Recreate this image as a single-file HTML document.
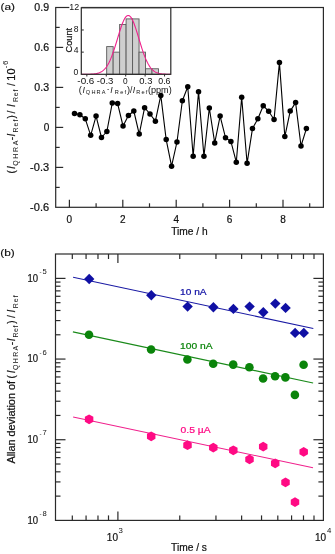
<!DOCTYPE html>
<html><head><meta charset="utf-8"><style>
html,body{margin:0;padding:0;background:#fff;}
svg{display:block;will-change:transform;}
text{font-family:"Liberation Sans", sans-serif;fill:#111;stroke-width:0.2px;}
</style></head><body>
<svg width="335" height="554" viewBox="0 0 335 554">
<polyline points="74.50,113.40 79.89,114.70 85.29,118.80 90.68,135.30 96.07,116.10 101.47,137.50 106.86,131.50 112.25,103.10 117.64,103.60 123.04,126.00 128.43,115.50 133.82,111.00 139.22,134.10 144.61,107.70 150.00,114.00 155.39,121.20 160.79,95.40 166.18,139.60 171.57,166.20 176.97,142.00 182.36,100.80 187.75,86.70 193.15,156.30 198.54,91.70 203.93,156.30 209.32,108.00 214.72,142.90 220.11,116.10 225.50,137.70 230.90,141.40 236.29,162.20 241.68,97.20 247.08,163.30 252.47,128.60 257.86,118.70 263.25,105.70 268.65,111.30 274.04,119.50 279.43,62.60 284.83,136.60 290.22,111.10 295.61,102.60 301.01,146.00 306.40,128.60" fill="none" stroke="#000" stroke-width="1.1" stroke-linejoin="round"/>
<circle cx="74.50" cy="113.40" r="2.75" fill="#000"/>
<circle cx="79.89" cy="114.70" r="2.75" fill="#000"/>
<circle cx="85.29" cy="118.80" r="2.75" fill="#000"/>
<circle cx="90.68" cy="135.30" r="2.75" fill="#000"/>
<circle cx="96.07" cy="116.10" r="2.75" fill="#000"/>
<circle cx="101.47" cy="137.50" r="2.75" fill="#000"/>
<circle cx="106.86" cy="131.50" r="2.75" fill="#000"/>
<circle cx="112.25" cy="103.10" r="2.75" fill="#000"/>
<circle cx="117.64" cy="103.60" r="2.75" fill="#000"/>
<circle cx="123.04" cy="126.00" r="2.75" fill="#000"/>
<circle cx="128.43" cy="115.50" r="2.75" fill="#000"/>
<circle cx="133.82" cy="111.00" r="2.75" fill="#000"/>
<circle cx="139.22" cy="134.10" r="2.75" fill="#000"/>
<circle cx="144.61" cy="107.70" r="2.75" fill="#000"/>
<circle cx="150.00" cy="114.00" r="2.75" fill="#000"/>
<circle cx="155.39" cy="121.20" r="2.75" fill="#000"/>
<circle cx="160.79" cy="95.40" r="2.75" fill="#000"/>
<circle cx="166.18" cy="139.60" r="2.75" fill="#000"/>
<circle cx="171.57" cy="166.20" r="2.75" fill="#000"/>
<circle cx="176.97" cy="142.00" r="2.75" fill="#000"/>
<circle cx="182.36" cy="100.80" r="2.75" fill="#000"/>
<circle cx="187.75" cy="86.70" r="2.75" fill="#000"/>
<circle cx="193.15" cy="156.30" r="2.75" fill="#000"/>
<circle cx="198.54" cy="91.70" r="2.75" fill="#000"/>
<circle cx="203.93" cy="156.30" r="2.75" fill="#000"/>
<circle cx="209.32" cy="108.00" r="2.75" fill="#000"/>
<circle cx="214.72" cy="142.90" r="2.75" fill="#000"/>
<circle cx="220.11" cy="116.10" r="2.75" fill="#000"/>
<circle cx="225.50" cy="137.70" r="2.75" fill="#000"/>
<circle cx="230.90" cy="141.40" r="2.75" fill="#000"/>
<circle cx="236.29" cy="162.20" r="2.75" fill="#000"/>
<circle cx="241.68" cy="97.20" r="2.75" fill="#000"/>
<circle cx="247.08" cy="163.30" r="2.75" fill="#000"/>
<circle cx="252.47" cy="128.60" r="2.75" fill="#000"/>
<circle cx="257.86" cy="118.70" r="2.75" fill="#000"/>
<circle cx="263.25" cy="105.70" r="2.75" fill="#000"/>
<circle cx="268.65" cy="111.30" r="2.75" fill="#000"/>
<circle cx="274.04" cy="119.50" r="2.75" fill="#000"/>
<circle cx="279.43" cy="62.60" r="2.75" fill="#000"/>
<circle cx="284.83" cy="136.60" r="2.75" fill="#000"/>
<circle cx="290.22" cy="111.10" r="2.75" fill="#000"/>
<circle cx="295.61" cy="102.60" r="2.75" fill="#000"/>
<circle cx="301.01" cy="146.00" r="2.75" fill="#000"/>
<circle cx="306.40" cy="128.60" r="2.75" fill="#000"/>
<rect x="55.7" y="7.5" width="267.70" height="199.80" fill="none" stroke="#2a2a2a" stroke-width="1.2"/>
<line x1="55.7" y1="47.40" x2="63.2" y2="47.40" stroke="#2a2a2a" stroke-width="1.2"/>
<line x1="55.7" y1="87.40" x2="63.2" y2="87.40" stroke="#2a2a2a" stroke-width="1.2"/>
<line x1="55.7" y1="127.40" x2="63.2" y2="127.40" stroke="#2a2a2a" stroke-width="1.2"/>
<line x1="55.7" y1="167.40" x2="63.2" y2="167.40" stroke="#2a2a2a" stroke-width="1.2"/>
<text x="34.39" y="10.70" font-size="10.0" style="stroke:#111" textLength="14.71" lengthAdjust="spacingAndGlyphs">0.9</text>
<text x="34.39" y="50.70" font-size="10.0" style="stroke:#111" textLength="14.68" lengthAdjust="spacingAndGlyphs">0.6</text>
<text x="34.39" y="90.70" font-size="10.0" style="stroke:#111" textLength="14.68" lengthAdjust="spacingAndGlyphs">0.3</text>
<text x="43.81" y="130.70" font-size="10.0" style="stroke:#111">0</text>
<text x="30.11" y="170.70" font-size="10.0" style="stroke:#111" textLength="18.97" lengthAdjust="spacingAndGlyphs">-0.3</text>
<text x="30.11" y="210.70" font-size="10.0" style="stroke:#111" textLength="18.97" lengthAdjust="spacingAndGlyphs">-0.6</text>
<line x1="55.7" y1="27.40" x2="59.7" y2="27.40" stroke="#2a2a2a" stroke-width="1.2"/>
<line x1="55.7" y1="67.40" x2="59.7" y2="67.40" stroke="#2a2a2a" stroke-width="1.2"/>
<line x1="55.7" y1="107.40" x2="59.7" y2="107.40" stroke="#2a2a2a" stroke-width="1.2"/>
<line x1="55.7" y1="147.40" x2="59.7" y2="147.40" stroke="#2a2a2a" stroke-width="1.2"/>
<line x1="55.7" y1="187.40" x2="59.7" y2="187.40" stroke="#2a2a2a" stroke-width="1.2"/>
<line x1="69.40" y1="207.3" x2="69.40" y2="199.8" stroke="#2a2a2a" stroke-width="1.2"/>
<text x="69.40" y="223.1" font-size="10.0" text-anchor="middle" style="stroke:#111">0</text>
<line x1="96.10" y1="207.3" x2="96.10" y2="203.3" stroke="#2a2a2a" stroke-width="1.2"/>
<line x1="122.80" y1="207.3" x2="122.80" y2="199.8" stroke="#2a2a2a" stroke-width="1.2"/>
<text x="122.80" y="223.1" font-size="10.0" text-anchor="middle" style="stroke:#111">2</text>
<line x1="149.50" y1="207.3" x2="149.50" y2="203.3" stroke="#2a2a2a" stroke-width="1.2"/>
<line x1="176.20" y1="207.3" x2="176.20" y2="199.8" stroke="#2a2a2a" stroke-width="1.2"/>
<text x="176.20" y="223.1" font-size="10.0" text-anchor="middle" style="stroke:#111">4</text>
<line x1="202.90" y1="207.3" x2="202.90" y2="203.3" stroke="#2a2a2a" stroke-width="1.2"/>
<line x1="229.60" y1="207.3" x2="229.60" y2="199.8" stroke="#2a2a2a" stroke-width="1.2"/>
<text x="229.60" y="223.1" font-size="10.0" text-anchor="middle" style="stroke:#111">6</text>
<line x1="256.30" y1="207.3" x2="256.30" y2="203.3" stroke="#2a2a2a" stroke-width="1.2"/>
<line x1="283.00" y1="207.3" x2="283.00" y2="199.8" stroke="#2a2a2a" stroke-width="1.2"/>
<text x="283.00" y="223.1" font-size="10.0" text-anchor="middle" style="stroke:#111">8</text>
<line x1="309.70" y1="207.3" x2="309.70" y2="203.3" stroke="#2a2a2a" stroke-width="1.2"/>
<text x="171.17" y="234.80" font-size="10.1" style="stroke:#111" textLength="36.48" lengthAdjust="spacingAndGlyphs">Time / h</text>
<text x="0.47" y="9.70" font-size="9.8" style="stroke:#111;stroke-width:0.15px" textLength="14.47" lengthAdjust="spacingAndGlyphs">(a)</text>
<text transform="rotate(-90)" x="-173.62" y="15.10" font-size="10.0" style="stroke:#111">(</text>
<text transform="rotate(-90)" x="-168.90" y="15.10" font-size="10.0" font-style="italic" style="stroke:#111">I</text>
<text transform="rotate(-90)" x="-165.73" y="17.60" font-size="7.0" style="stroke:none" letter-spacing="1.607">QHRA</text>
<text transform="rotate(-90)" x="-140.34" y="15.10" font-size="10.0" style="stroke:#111">-</text>
<text transform="rotate(-90)" x="-136.40" y="15.10" font-size="10.0" font-style="italic" style="stroke:#111">I</text>
<text transform="rotate(-90)" x="-132.57" y="17.60" font-size="7.0" style="stroke:none" letter-spacing="1.085">Ref</text>
<text transform="rotate(-90)" x="-118.56" y="15.10" font-size="10.0" style="stroke:#111">)</text>
<text transform="rotate(-90)" x="-113.50" y="15.10" font-size="10.0" style="stroke:#111">/</text>
<text transform="rotate(-90)" x="-107.00" y="15.10" font-size="10.0" font-style="italic" style="stroke:#111">I</text>
<text transform="rotate(-90)" x="-101.97" y="17.60" font-size="7.0" style="stroke:none" letter-spacing="0.735">Ref</text>
<text transform="rotate(-90)" x="-86.10" y="15.10" font-size="10.0" style="stroke:#111">/</text>
<text transform="rotate(-90)" x="-80.74" y="15.10" font-size="10.0" style="stroke:#111" textLength="12.27" lengthAdjust="spacingAndGlyphs">10</text>
<text transform="rotate(-90)" x="-68.13" y="7.60" font-size="7.5" style="stroke:none">-</text>
<text transform="rotate(-90)" x="-65.01" y="7.80" font-size="8.0" style="stroke:none">6</text>
<rect x="69.3" y="0" width="12" height="14" fill="#fff"/>
<rect x="81.3" y="7.8" width="89.50" height="66.50" fill="#fff"/>
<rect x="106.68" y="46.60" width="6.475" height="27.70" fill="#cfcfcf" stroke="#5a5a5a" stroke-width="0.9"/>
<rect x="113.15" y="52.14" width="6.475" height="22.16" fill="#cfcfcf" stroke="#5a5a5a" stroke-width="0.9"/>
<rect x="119.63" y="24.44" width="6.475" height="49.86" fill="#cfcfcf" stroke="#5a5a5a" stroke-width="0.9"/>
<rect x="126.10" y="18.90" width="6.475" height="55.40" fill="#cfcfcf" stroke="#5a5a5a" stroke-width="0.9"/>
<rect x="132.58" y="18.90" width="6.475" height="55.40" fill="#cfcfcf" stroke="#5a5a5a" stroke-width="0.9"/>
<rect x="139.05" y="52.14" width="6.475" height="22.16" fill="#cfcfcf" stroke="#5a5a5a" stroke-width="0.9"/>
<rect x="145.53" y="68.76" width="6.475" height="5.54" fill="#cfcfcf" stroke="#5a5a5a" stroke-width="0.9"/>
<rect x="152.00" y="68.76" width="6.475" height="5.54" fill="#cfcfcf" stroke="#5a5a5a" stroke-width="0.9"/>
<polyline points="81.30,74.30 81.80,74.30 82.30,74.29 82.80,74.29 83.30,74.29 83.80,74.29 84.30,74.29 84.80,74.28 85.30,74.28 85.80,74.28 86.30,74.27 86.80,74.27 87.30,74.26 87.80,74.25 88.30,74.24 88.80,74.23 89.30,74.22 89.80,74.21 90.30,74.19 90.80,74.17 91.30,74.15 91.80,74.12 92.30,74.09 92.80,74.05 93.30,74.01 93.80,73.97 94.30,73.91 94.80,73.85 95.30,73.78 95.80,73.70 96.30,73.61 96.80,73.51 97.30,73.39 97.80,73.26 98.30,73.11 98.80,72.95 99.30,72.77 99.80,72.56 100.30,72.34 100.80,72.08 101.30,71.81 101.80,71.50 102.30,71.16 102.80,70.79 103.30,70.38 103.80,69.93 104.30,69.45 104.80,68.92 105.30,68.35 105.80,67.73 106.30,67.06 106.80,66.34 107.30,65.57 107.80,64.75 108.30,63.87 108.80,62.94 109.30,61.94 109.80,60.90 110.30,59.79 110.80,58.63 111.30,57.41 111.80,56.13 112.30,54.81 112.80,53.43 113.30,52.00 113.80,50.53 114.30,49.01 114.80,47.46 115.30,45.87 115.80,44.26 116.30,42.62 116.80,40.97 117.30,39.30 117.80,37.64 118.30,35.97 118.80,34.32 119.30,32.70 119.80,31.09 120.30,29.53 120.80,28.01 121.30,26.54 121.80,25.13 122.30,23.79 122.80,22.53 123.30,21.35 123.80,20.27 124.30,19.28 124.80,18.39 125.30,17.62 125.80,16.96 126.30,16.42 126.80,16.00 127.30,15.71 127.80,15.54 128.30,15.50 128.80,15.59 129.30,15.81 129.80,16.15 130.30,16.62 130.80,17.21 131.30,17.92 131.80,18.74 132.30,19.66 132.80,20.69 133.30,21.81 133.80,23.03 134.30,24.32 134.80,25.69 135.30,27.12 135.80,28.61 136.30,30.15 136.80,31.73 137.30,33.34 137.80,34.98 138.30,36.64 138.80,38.30 139.30,39.97 139.80,41.63 140.30,43.28 140.80,44.91 141.30,46.51 141.80,48.08 142.30,49.62 142.80,51.12 143.30,52.58 143.80,53.99 144.30,55.34 144.80,56.65 145.30,57.90 145.80,59.10 146.30,60.24 146.80,61.32 147.30,62.35 147.80,63.32 148.30,64.23 148.80,65.08 149.30,65.89 149.80,66.64 150.30,67.33 150.80,67.98 151.30,68.58 151.80,69.14 152.30,69.65 152.80,70.12 153.30,70.55 153.80,70.94 154.30,71.30 154.80,71.62 155.30,71.92 155.80,72.19 156.30,72.43 156.80,72.65 157.30,72.84 157.80,73.02 158.30,73.18 158.80,73.32 159.30,73.44 159.80,73.55 160.30,73.65 160.80,73.73 161.30,73.81 161.80,73.88 162.30,73.93 162.80,73.98 163.30,74.03 163.80,74.07 164.30,74.10 164.80,74.13 165.30,74.16 165.80,74.18 166.30,74.20 166.80,74.21 167.30,74.23 167.80,74.24 168.30,74.25 168.80,74.26 169.30,74.26 169.80,74.27 170.30,74.27 170.80,74.28" fill="none" stroke="#f0208c" stroke-width="1.1"/>
<rect x="81.3" y="7.8" width="89.50" height="66.50" fill="none" stroke="#2a2a2a" stroke-width="1.2"/>
<line x1="81.3" y1="29.98" x2="83.8" y2="29.98" stroke="#2a2a2a" stroke-width="1"/>
<line x1="81.3" y1="52.14" x2="83.8" y2="52.14" stroke="#2a2a2a" stroke-width="1"/>
<text x="69.22" y="10.10" font-size="8.5" style="stroke:none" textLength="9.93" lengthAdjust="spacingAndGlyphs">12</text>
<text x="73.73" y="31.70" font-size="8.6" style="stroke:none">8</text>
<text x="73.70" y="53.20" font-size="8.6" style="stroke:none">4</text>
<text x="73.56" y="75.40" font-size="8.6" style="stroke:none">0</text>
<line x1="86.85" y1="74.3" x2="86.85" y2="76.5" stroke="#2a2a2a" stroke-width="1"/>
<line x1="106.28" y1="74.3" x2="106.28" y2="76.5" stroke="#2a2a2a" stroke-width="1"/>
<line x1="125.70" y1="74.3" x2="125.70" y2="76.5" stroke="#2a2a2a" stroke-width="1"/>
<line x1="145.12" y1="74.3" x2="145.12" y2="76.5" stroke="#2a2a2a" stroke-width="1"/>
<line x1="164.55" y1="74.3" x2="164.55" y2="76.5" stroke="#2a2a2a" stroke-width="1"/>
<text x="77.36" y="83.90" font-size="8.3" style="stroke:none" textLength="16.97" lengthAdjust="spacingAndGlyphs">-0.6</text>
<text x="96.87" y="83.90" font-size="8.3" style="stroke:none" textLength="16.55" lengthAdjust="spacingAndGlyphs">-0.3</text>
<text x="122.98" y="83.90" font-size="8.3" style="stroke:none">0</text>
<text x="139.33" y="83.90" font-size="8.3" style="stroke:none" textLength="13.08" lengthAdjust="spacingAndGlyphs">0.3</text>
<text x="158.26" y="83.90" font-size="8.3" style="stroke:none" textLength="12.23" lengthAdjust="spacingAndGlyphs">0.6</text>
<text transform="rotate(-90)" x="-52.57" y="71.60" font-size="9.5" style="stroke:#111" textLength="24.74" lengthAdjust="spacingAndGlyphs">Count</text>
<text x="78.83" y="93.20" font-size="9.2" style="stroke:none">(</text>
<text x="82.46" y="92.60" font-size="8.6" font-style="italic" style="stroke:none">I</text>
<text x="85.83" y="94.20" font-size="5.6" style="stroke:none" letter-spacing="1.199">QHRA</text>
<text x="107.09" y="91.20" font-size="7" style="stroke:none">-</text>
<text x="110.36" y="92.60" font-size="8.6" font-style="italic" style="stroke:none">I</text>
<text x="114.74" y="94.20" font-size="5.6" style="stroke:none" letter-spacing="1.368">Ref</text>
<text x="126.95" y="93.20" font-size="9.2" style="stroke:none">)</text>
<text x="130.00" y="92.60" font-size="8.6" style="stroke:none">/</text>
<text x="132.66" y="92.60" font-size="8.6" font-style="italic" style="stroke:none">I</text>
<text x="136.34" y="94.20" font-size="5.6" style="stroke:none" letter-spacing="1.118">Ref</text>
<text x="147.93" y="92.90" font-size="9.0" style="stroke:none" textLength="23.83" lengthAdjust="spacingAndGlyphs">(ppm)</text>
<line x1="73.1" y1="277.3" x2="313.3" y2="328.5" stroke="#1a1aa4" stroke-width="1.1"/>
<line x1="72.9" y1="331.9" x2="313.1" y2="383.0" stroke="#1a8a1a" stroke-width="1.1"/>
<line x1="73.1" y1="417.0" x2="313.0" y2="467.8" stroke="#f0208c" stroke-width="1.1"/>
<polygon points="89.2,273.8 94.4,279.0 89.2,284.2 84.0,279.0" fill="#1010a4"/>
<polygon points="151.3,290.09999999999997 156.5,295.29999999999995 151.3,300.49999999999994 146.10000000000002,295.29999999999995" fill="#1010a4"/>
<polygon points="187.60000000000002,301.4 192.8,306.59999999999997 187.60000000000002,311.79999999999995 182.40000000000003,306.59999999999997" fill="#1010a4"/>
<polygon points="213.4,302.0 218.6,307.2 213.4,312.4 208.20000000000002,307.2" fill="#1010a4"/>
<polygon points="233.4,303.7 238.6,308.9 233.4,314.09999999999997 228.20000000000002,308.9" fill="#1010a4"/>
<polygon points="249.60000000000002,301.4 254.8,306.59999999999997 249.60000000000002,311.79999999999995 244.40000000000003,306.59999999999997" fill="#1010a4"/>
<polygon points="263.3,307.0 268.5,312.2 263.3,317.4 258.1,312.2" fill="#1010a4"/>
<polygon points="275.3,298.4 280.5,303.59999999999997 275.3,308.79999999999995 270.1,303.59999999999997" fill="#1010a4"/>
<polygon points="285.6,302.7 290.8,307.9 285.6,313.09999999999997 280.40000000000003,307.9" fill="#1010a4"/>
<polygon points="295.1,327.7 300.3,332.9 295.1,338.09999999999997 289.90000000000003,332.9" fill="#1010a4"/>
<polygon points="303.8,327.7 309.0,332.9 303.8,338.09999999999997 298.6,332.9" fill="#1010a4"/>
<circle cx="89.0" cy="334.7" r="4.3" fill="#0a840a"/>
<circle cx="151.1" cy="349.5" r="4.3" fill="#0a840a"/>
<circle cx="187.4" cy="359.5" r="4.3" fill="#0a840a"/>
<circle cx="213.2" cy="363.79999999999995" r="4.3" fill="#0a840a"/>
<circle cx="233.2" cy="364.59999999999997" r="4.3" fill="#0a840a"/>
<circle cx="249.4" cy="367.29999999999995" r="4.3" fill="#0a840a"/>
<circle cx="263.1" cy="378.5" r="4.3" fill="#0a840a"/>
<circle cx="275.1" cy="376.29999999999995" r="4.3" fill="#0a840a"/>
<circle cx="285.40000000000003" cy="377.4" r="4.3" fill="#0a840a"/>
<circle cx="294.90000000000003" cy="394.9" r="4.3" fill="#0a840a"/>
<circle cx="303.6" cy="364.79999999999995" r="4.3" fill="#0a840a"/>
<polygon points="89.10,414.40 93.34,416.85 93.34,421.75 89.10,424.20 84.86,421.75 84.86,416.85" fill="#ff0a84"/>
<polygon points="151.20,431.40 155.44,433.85 155.44,438.75 151.20,441.20 146.96,438.75 146.96,433.85" fill="#ff0a84"/>
<polygon points="187.50,440.30 191.74,442.75 191.74,447.65 187.50,450.10 183.26,447.65 183.26,442.75" fill="#ff0a84"/>
<polygon points="213.30,442.70 217.54,445.15 217.54,450.05 213.30,452.50 209.06,450.05 209.06,445.15" fill="#ff0a84"/>
<polygon points="233.30,445.40 237.54,447.85 237.54,452.75 233.30,455.20 229.06,452.75 229.06,447.85" fill="#ff0a84"/>
<polygon points="249.50,454.50 253.74,456.95 253.74,461.85 249.50,464.30 245.26,461.85 245.26,456.95" fill="#ff0a84"/>
<polygon points="263.20,441.70 267.44,444.15 267.44,449.05 263.20,451.50 258.96,449.05 258.96,444.15" fill="#ff0a84"/>
<polygon points="275.20,458.40 279.44,460.85 279.44,465.75 275.20,468.20 270.96,465.75 270.96,460.85" fill="#ff0a84"/>
<polygon points="285.50,477.50 289.74,479.95 289.74,484.85 285.50,487.30 281.26,484.85 281.26,479.95" fill="#ff0a84"/>
<polygon points="295.00,497.20 299.24,499.65 299.24,504.55 295.00,507.00 290.76,504.55 290.76,499.65" fill="#ff0a84"/>
<polygon points="303.70,447.00 307.94,449.45 307.94,454.35 303.70,456.80 299.46,454.35 299.46,449.45" fill="#ff0a84"/>
<rect x="55.5" y="254.0" width="267.90" height="266.40" fill="none" stroke="#2a2a2a" stroke-width="1.2"/>
<line x1="55.5" y1="496.12" x2="60.5" y2="496.12" stroke="#2a2a2a" stroke-width="1.2"/>
<line x1="323.4" y1="496.12" x2="318.4" y2="496.12" stroke="#2a2a2a" stroke-width="1.2"/>
<line x1="55.5" y1="481.91" x2="60.5" y2="481.91" stroke="#2a2a2a" stroke-width="1.2"/>
<line x1="323.4" y1="481.91" x2="318.4" y2="481.91" stroke="#2a2a2a" stroke-width="1.2"/>
<line x1="55.5" y1="471.83" x2="60.5" y2="471.83" stroke="#2a2a2a" stroke-width="1.2"/>
<line x1="323.4" y1="471.83" x2="318.4" y2="471.83" stroke="#2a2a2a" stroke-width="1.2"/>
<line x1="55.5" y1="464.01" x2="60.5" y2="464.01" stroke="#2a2a2a" stroke-width="1.2"/>
<line x1="323.4" y1="464.01" x2="318.4" y2="464.01" stroke="#2a2a2a" stroke-width="1.2"/>
<line x1="55.5" y1="457.63" x2="60.5" y2="457.63" stroke="#2a2a2a" stroke-width="1.2"/>
<line x1="323.4" y1="457.63" x2="318.4" y2="457.63" stroke="#2a2a2a" stroke-width="1.2"/>
<line x1="55.5" y1="452.23" x2="60.5" y2="452.23" stroke="#2a2a2a" stroke-width="1.2"/>
<line x1="323.4" y1="452.23" x2="318.4" y2="452.23" stroke="#2a2a2a" stroke-width="1.2"/>
<line x1="55.5" y1="447.55" x2="60.5" y2="447.55" stroke="#2a2a2a" stroke-width="1.2"/>
<line x1="323.4" y1="447.55" x2="318.4" y2="447.55" stroke="#2a2a2a" stroke-width="1.2"/>
<line x1="55.5" y1="443.42" x2="60.5" y2="443.42" stroke="#2a2a2a" stroke-width="1.2"/>
<line x1="323.4" y1="443.42" x2="318.4" y2="443.42" stroke="#2a2a2a" stroke-width="1.2"/>
<line x1="55.5" y1="439.73" x2="65.5" y2="439.73" stroke="#2a2a2a" stroke-width="1.2"/>
<line x1="323.4" y1="439.73" x2="313.4" y2="439.73" stroke="#2a2a2a" stroke-width="1.2"/>
<line x1="55.5" y1="415.45" x2="60.5" y2="415.45" stroke="#2a2a2a" stroke-width="1.2"/>
<line x1="323.4" y1="415.45" x2="318.4" y2="415.45" stroke="#2a2a2a" stroke-width="1.2"/>
<line x1="55.5" y1="401.24" x2="60.5" y2="401.24" stroke="#2a2a2a" stroke-width="1.2"/>
<line x1="323.4" y1="401.24" x2="318.4" y2="401.24" stroke="#2a2a2a" stroke-width="1.2"/>
<line x1="55.5" y1="391.16" x2="60.5" y2="391.16" stroke="#2a2a2a" stroke-width="1.2"/>
<line x1="323.4" y1="391.16" x2="318.4" y2="391.16" stroke="#2a2a2a" stroke-width="1.2"/>
<line x1="55.5" y1="383.34" x2="60.5" y2="383.34" stroke="#2a2a2a" stroke-width="1.2"/>
<line x1="323.4" y1="383.34" x2="318.4" y2="383.34" stroke="#2a2a2a" stroke-width="1.2"/>
<line x1="55.5" y1="376.96" x2="60.5" y2="376.96" stroke="#2a2a2a" stroke-width="1.2"/>
<line x1="323.4" y1="376.96" x2="318.4" y2="376.96" stroke="#2a2a2a" stroke-width="1.2"/>
<line x1="55.5" y1="371.56" x2="60.5" y2="371.56" stroke="#2a2a2a" stroke-width="1.2"/>
<line x1="323.4" y1="371.56" x2="318.4" y2="371.56" stroke="#2a2a2a" stroke-width="1.2"/>
<line x1="55.5" y1="366.88" x2="60.5" y2="366.88" stroke="#2a2a2a" stroke-width="1.2"/>
<line x1="323.4" y1="366.88" x2="318.4" y2="366.88" stroke="#2a2a2a" stroke-width="1.2"/>
<line x1="55.5" y1="362.75" x2="60.5" y2="362.75" stroke="#2a2a2a" stroke-width="1.2"/>
<line x1="323.4" y1="362.75" x2="318.4" y2="362.75" stroke="#2a2a2a" stroke-width="1.2"/>
<line x1="55.5" y1="359.06" x2="65.5" y2="359.06" stroke="#2a2a2a" stroke-width="1.2"/>
<line x1="323.4" y1="359.06" x2="313.4" y2="359.06" stroke="#2a2a2a" stroke-width="1.2"/>
<line x1="55.5" y1="334.78" x2="60.5" y2="334.78" stroke="#2a2a2a" stroke-width="1.2"/>
<line x1="323.4" y1="334.78" x2="318.4" y2="334.78" stroke="#2a2a2a" stroke-width="1.2"/>
<line x1="55.5" y1="320.57" x2="60.5" y2="320.57" stroke="#2a2a2a" stroke-width="1.2"/>
<line x1="323.4" y1="320.57" x2="318.4" y2="320.57" stroke="#2a2a2a" stroke-width="1.2"/>
<line x1="55.5" y1="310.49" x2="60.5" y2="310.49" stroke="#2a2a2a" stroke-width="1.2"/>
<line x1="323.4" y1="310.49" x2="318.4" y2="310.49" stroke="#2a2a2a" stroke-width="1.2"/>
<line x1="55.5" y1="302.67" x2="60.5" y2="302.67" stroke="#2a2a2a" stroke-width="1.2"/>
<line x1="323.4" y1="302.67" x2="318.4" y2="302.67" stroke="#2a2a2a" stroke-width="1.2"/>
<line x1="55.5" y1="296.29" x2="60.5" y2="296.29" stroke="#2a2a2a" stroke-width="1.2"/>
<line x1="323.4" y1="296.29" x2="318.4" y2="296.29" stroke="#2a2a2a" stroke-width="1.2"/>
<line x1="55.5" y1="290.89" x2="60.5" y2="290.89" stroke="#2a2a2a" stroke-width="1.2"/>
<line x1="323.4" y1="290.89" x2="318.4" y2="290.89" stroke="#2a2a2a" stroke-width="1.2"/>
<line x1="55.5" y1="286.21" x2="60.5" y2="286.21" stroke="#2a2a2a" stroke-width="1.2"/>
<line x1="323.4" y1="286.21" x2="318.4" y2="286.21" stroke="#2a2a2a" stroke-width="1.2"/>
<line x1="55.5" y1="282.08" x2="60.5" y2="282.08" stroke="#2a2a2a" stroke-width="1.2"/>
<line x1="323.4" y1="282.08" x2="318.4" y2="282.08" stroke="#2a2a2a" stroke-width="1.2"/>
<line x1="55.5" y1="278.39" x2="65.5" y2="278.39" stroke="#2a2a2a" stroke-width="1.2"/>
<line x1="323.4" y1="278.39" x2="313.4" y2="278.39" stroke="#2a2a2a" stroke-width="1.2"/>
<text x="27.57" y="281.79" font-size="10.3" style="stroke:#111" textLength="10.60" lengthAdjust="spacingAndGlyphs">10</text>
<text x="39.42" y="274.19" font-size="6.2" style="stroke:none">-</text>
<text x="42.50" y="273.89" font-size="7.6" style="stroke:none">5</text>
<text x="27.57" y="362.46" font-size="10.3" style="stroke:#111" textLength="10.60" lengthAdjust="spacingAndGlyphs">10</text>
<text x="39.42" y="354.86" font-size="6.2" style="stroke:none">-</text>
<text x="42.41" y="354.56" font-size="7.6" style="stroke:none">6</text>
<text x="27.57" y="443.13" font-size="10.3" style="stroke:#111" textLength="10.60" lengthAdjust="spacingAndGlyphs">10</text>
<text x="39.42" y="435.53" font-size="6.2" style="stroke:none">-</text>
<text x="42.41" y="435.23" font-size="7.6" style="stroke:none">7</text>
<text x="27.57" y="523.80" font-size="10.3" style="stroke:#111" textLength="10.60" lengthAdjust="spacingAndGlyphs">10</text>
<text x="39.42" y="516.20" font-size="6.2" style="stroke:none">-</text>
<text x="42.47" y="515.90" font-size="7.6" style="stroke:none">8</text>
<line x1="72.31" y1="520.4" x2="72.31" y2="515.4" stroke="#2a2a2a" stroke-width="1.2"/>
<line x1="72.31" y1="254.0" x2="72.31" y2="259.0" stroke="#2a2a2a" stroke-width="1.2"/>
<line x1="86.07" y1="520.4" x2="86.07" y2="515.4" stroke="#2a2a2a" stroke-width="1.2"/>
<line x1="86.07" y1="254.0" x2="86.07" y2="259.0" stroke="#2a2a2a" stroke-width="1.2"/>
<line x1="97.98" y1="520.4" x2="97.98" y2="515.4" stroke="#2a2a2a" stroke-width="1.2"/>
<line x1="97.98" y1="254.0" x2="97.98" y2="259.0" stroke="#2a2a2a" stroke-width="1.2"/>
<line x1="108.50" y1="520.4" x2="108.50" y2="515.4" stroke="#2a2a2a" stroke-width="1.2"/>
<line x1="108.50" y1="254.0" x2="108.50" y2="259.0" stroke="#2a2a2a" stroke-width="1.2"/>
<line x1="117.90" y1="520.4" x2="117.90" y2="511.4" stroke="#2a2a2a" stroke-width="1.2"/>
<line x1="117.90" y1="254.0" x2="117.90" y2="263.0" stroke="#2a2a2a" stroke-width="1.2"/>
<line x1="179.76" y1="520.4" x2="179.76" y2="515.4" stroke="#2a2a2a" stroke-width="1.2"/>
<line x1="179.76" y1="254.0" x2="179.76" y2="259.0" stroke="#2a2a2a" stroke-width="1.2"/>
<line x1="215.95" y1="520.4" x2="215.95" y2="515.4" stroke="#2a2a2a" stroke-width="1.2"/>
<line x1="215.95" y1="254.0" x2="215.95" y2="259.0" stroke="#2a2a2a" stroke-width="1.2"/>
<line x1="241.62" y1="520.4" x2="241.62" y2="515.4" stroke="#2a2a2a" stroke-width="1.2"/>
<line x1="241.62" y1="254.0" x2="241.62" y2="259.0" stroke="#2a2a2a" stroke-width="1.2"/>
<line x1="261.54" y1="520.4" x2="261.54" y2="515.4" stroke="#2a2a2a" stroke-width="1.2"/>
<line x1="261.54" y1="254.0" x2="261.54" y2="259.0" stroke="#2a2a2a" stroke-width="1.2"/>
<line x1="277.81" y1="520.4" x2="277.81" y2="515.4" stroke="#2a2a2a" stroke-width="1.2"/>
<line x1="277.81" y1="254.0" x2="277.81" y2="259.0" stroke="#2a2a2a" stroke-width="1.2"/>
<line x1="291.57" y1="520.4" x2="291.57" y2="515.4" stroke="#2a2a2a" stroke-width="1.2"/>
<line x1="291.57" y1="254.0" x2="291.57" y2="259.0" stroke="#2a2a2a" stroke-width="1.2"/>
<line x1="303.48" y1="520.4" x2="303.48" y2="515.4" stroke="#2a2a2a" stroke-width="1.2"/>
<line x1="303.48" y1="254.0" x2="303.48" y2="259.0" stroke="#2a2a2a" stroke-width="1.2"/>
<line x1="314.00" y1="520.4" x2="314.00" y2="515.4" stroke="#2a2a2a" stroke-width="1.2"/>
<line x1="314.00" y1="254.0" x2="314.00" y2="259.0" stroke="#2a2a2a" stroke-width="1.2"/>
<text x="106.84" y="540.50" font-size="10.3" style="stroke:#111" textLength="11.16" lengthAdjust="spacingAndGlyphs">10</text>
<text x="118.60" y="533.00" font-size="7.8" style="stroke:none">3</text>
<text x="315.04" y="540.80" font-size="10.3" style="stroke:#111" textLength="11.16" lengthAdjust="spacingAndGlyphs">10</text>
<text x="327.02" y="533.40" font-size="7.8" style="stroke:none">4</text>
<text x="171.07" y="550.60" font-size="10.1" style="stroke:#111" textLength="35.89" lengthAdjust="spacingAndGlyphs">Time / s</text>
<text x="0.27" y="256.40" font-size="9.8" style="stroke:#111;stroke-width:0.15px" textLength="14.47" lengthAdjust="spacingAndGlyphs">(b)</text>
<text x="180.13" y="294.80" font-size="9.6" style="fill:#1010a4;stroke:#1010a4;stroke-width:0.24px" textLength="26.39" lengthAdjust="spacingAndGlyphs">10 nA</text>
<text x="180.12" y="349.40" font-size="9.6" style="fill:#0a840a;stroke:#0a840a;stroke-width:0.24px" textLength="32.50" lengthAdjust="spacingAndGlyphs">100 nA</text>
<text x="180.50" y="432.80" font-size="9.6" style="fill:#ff0a84;stroke:#ff0a84;stroke-width:0.24px" textLength="30.12" lengthAdjust="spacingAndGlyphs">0.5 µA</text>
<text transform="rotate(-90)" x="-463.62" y="15.10" font-size="10.0" style="stroke:#111" textLength="82.61" lengthAdjust="spacingAndGlyphs">Allan deviation of</text>
<text transform="rotate(-90)" x="-378.52" y="15.10" font-size="10.0" style="stroke:#111">(</text>
<text transform="rotate(-90)" x="-373.30" y="15.10" font-size="10.0" font-style="italic" style="stroke:#111">I</text>
<text transform="rotate(-90)" x="-370.03" y="17.60" font-size="7.0" style="stroke:none" letter-spacing="1.340">QHRA</text>
<text transform="rotate(-90)" x="-345.34" y="15.10" font-size="10.0" style="stroke:#111">-</text>
<text transform="rotate(-90)" x="-341.30" y="15.10" font-size="10.0" font-style="italic" style="stroke:#111">I</text>
<text transform="rotate(-90)" x="-337.57" y="17.60" font-size="7.0" style="stroke:none" letter-spacing="0.535">Ref</text>
<text transform="rotate(-90)" x="-323.86" y="15.10" font-size="10.0" style="stroke:#111">)</text>
<text transform="rotate(-90)" x="-318.00" y="15.10" font-size="10.0" style="stroke:#111">/</text>
<text transform="rotate(-90)" x="-312.50" y="15.10" font-size="10.0" font-style="italic" style="stroke:#111">I</text>
<text transform="rotate(-90)" x="-308.17" y="17.60" font-size="7.0" style="stroke:none" letter-spacing="0.935">Ref</text>
</svg>
</body></html>
